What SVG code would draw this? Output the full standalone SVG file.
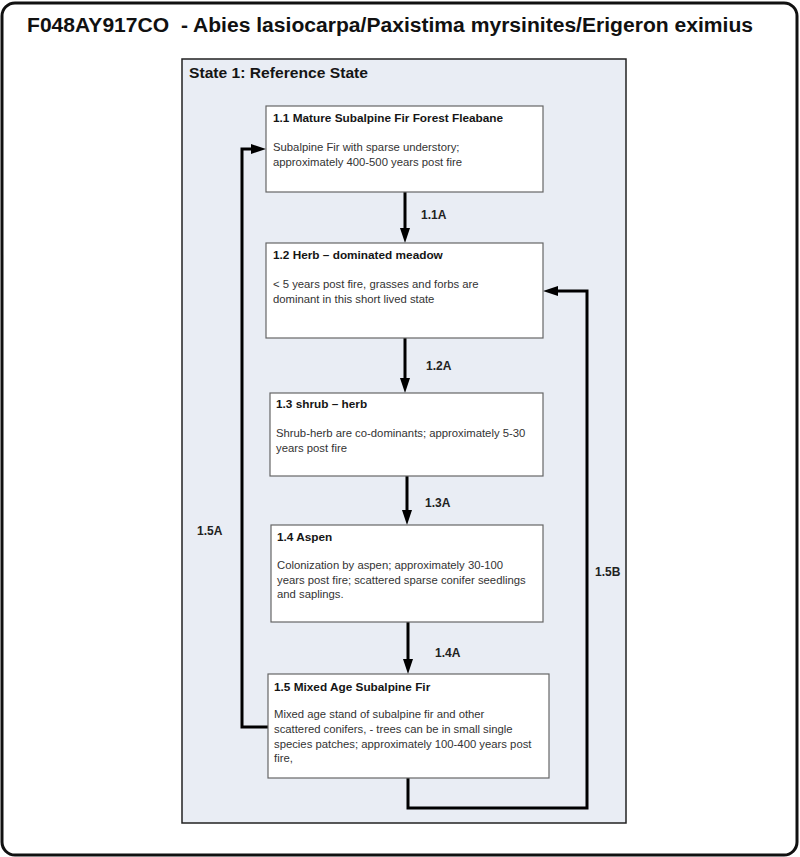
<svg xmlns="http://www.w3.org/2000/svg" width="800" height="857" viewBox="0 0 800 857">
<style>
.frame{fill:#ffffff;stroke:#111111;stroke-width:3}
.state{fill:#e9edf4;stroke:#222222;stroke-width:1.5}
.node rect{fill:#ffffff;stroke:#666666;stroke-width:1.2}
.nt{font-family:"Liberation Sans",Arial,sans-serif;font-weight:bold;font-size:11.8px;fill:#151515}
.nb{font-family:"Liberation Sans",Arial,sans-serif;font-size:11.3px;fill:#333333}
.lbl{font-family:"Liberation Sans",Arial,sans-serif;font-weight:bold;font-size:12px;fill:#222222}
.con{fill:none;stroke:#000000;stroke-width:3}
</style>
<defs>
<marker id="ah" markerUnits="userSpaceOnUse" markerWidth="15" markerHeight="10" refX="0" refY="5" orient="auto">
<path d="M0,0 L15,5 L0,10 z" fill="#000000"/>
</marker>
</defs>
<rect class="frame" x="2" y="3" width="795" height="852" rx="13" ry="13"/>
<text x="27" y="32" xml:space="preserve" style="white-space:pre" font-family="'Liberation Sans',Arial,sans-serif" font-weight="bold" font-size="20" fill="#111111" textLength="726" lengthAdjust="spacingAndGlyphs">F048AY917CO  - Abies lasiocarpa/Paxistima myrsinites/Erigeron eximius</text>
<g id="state1">
<rect class="state" x="182" y="59" width="444" height="764"/>
<text x="189" y="78" font-family="'Liberation Sans',Arial,sans-serif" font-weight="bold" font-size="15" fill="#151515" textLength="179" lengthAdjust="spacingAndGlyphs">State 1: Reference State</text>
</g>
<g id="connectors">
<path class="con" d="M405,192 L405,228" marker-end="url(#ah)"/>
<path class="con" d="M405,338 L405,378" marker-end="url(#ah)"/>
<path class="con" d="M407,476 L407,510" marker-end="url(#ah)"/>
<path class="con" d="M408,622 L408,659" marker-end="url(#ah)"/>
<path class="con" d="M268,727 L242,727 L242,149 L251,149" marker-end="url(#ah)"/>
<path class="con" d="M408,778 L408,808 L587,808 L587,291 L558,291" marker-end="url(#ah)"/>
<text class="lbl" x="421" y="219">1.1A</text>
<text class="lbl" x="426" y="370">1.2A</text>
<text class="lbl" x="425" y="507">1.3A</text>
<text class="lbl" x="435" y="657">1.4A</text>
<text class="lbl" x="197" y="535">1.5A</text>
<text class="lbl" x="595" y="576">1.5B</text>
</g>
<g id="node1_1" class="node">
<rect x="266" y="106" width="277" height="86"/>
<text class="nt" x="273" y="122">1.1 Mature Subalpine Fir Forest Fleabane</text>
<text class="nb" x="273" y="151">Subalpine Fir with sparse understory;</text>
<text class="nb" x="273" y="165.5">approximately 400-500 years post fire</text>
</g>
<g id="node1_2" class="node">
<rect x="266" y="243" width="277" height="95"/>
<text class="nt" x="273" y="259">1.2 Herb – dominated meadow</text>
<text class="nb" x="273" y="288">&lt; 5 years post fire, grasses and forbs are</text>
<text class="nb" x="273" y="302.5">dominant in this short lived state</text>
</g>
<g id="node1_3" class="node">
<rect x="270" y="393" width="273" height="83"/>
<text class="nt" x="276" y="408">1.3 shrub – herb</text>
<text class="nb" x="276" y="437">Shrub-herb are co-dominants; approximately 5-30</text>
<text class="nb" x="276" y="451.5">years post fire</text>
</g>
<g id="node1_4" class="node">
<rect x="271" y="525" width="272" height="97"/>
<text class="nt" x="277" y="541">1.4 Aspen</text>
<text class="nb" x="277" y="569">Colonization by aspen; approximately 30-100</text>
<text class="nb" x="277" y="583.5">years post fire; scattered sparse conifer seedlings</text>
<text class="nb" x="277" y="598">and saplings.</text>
</g>
<g id="node1_5" class="node">
<rect x="268" y="674" width="281" height="104"/>
<text class="nt" x="274" y="691">1.5 Mixed Age Subalpine Fir</text>
<text class="nb" x="274" y="718">Mixed age stand of subalpine fir and other</text>
<text class="nb" x="274" y="732.8">scattered conifers, - trees can be in small single</text>
<text class="nb" x="274" y="747.6">species patches; approximately 100-400 years post</text>
<text class="nb" x="274" y="762.4">fire,</text>
</g>
</svg>
